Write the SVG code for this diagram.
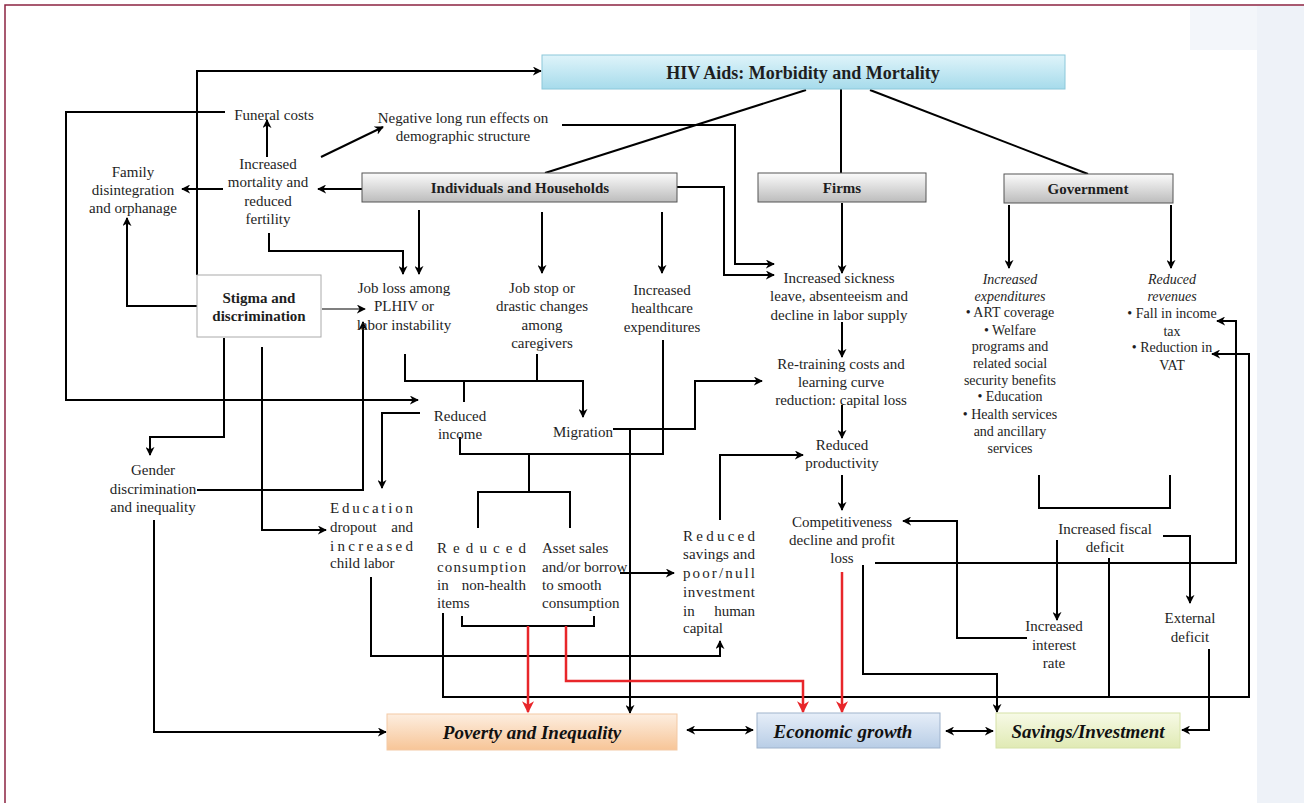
<svg xmlns="http://www.w3.org/2000/svg" width="1304" height="803" viewBox="0 0 1304 803">
<defs>
<style>
.t{font-family:"Liberation Serif","Times New Roman",serif;font-size:15px;fill:#1e1e1e;text-anchor:middle}
.s{text-anchor:start}
.e{text-anchor:end}
.g{font-size:14px}
.i{font-style:italic}
.b{font-weight:bold}
.bi{font-weight:bold;font-style:italic;font-size:19px;fill:#111}
.c{fill:none;stroke:#000;stroke-width:2}
.r{fill:none;stroke:#e8262a;stroke-width:2.5}
.a{marker-end:url(#ah)}
.ra{marker-end:url(#rh)}
.d{marker-start:url(#ah);marker-end:url(#ah)}
.box{stroke:#555;stroke-width:1}
</style>
<marker id="ah" viewBox="0 0 10 10" refX="9" refY="5" markerWidth="9" markerHeight="9" markerUnits="userSpaceOnUse" orient="auto-start-reverse"><path d="M0,0 L10,5 L0,10 L3,5z" fill="#000"/></marker>
<marker id="rh" viewBox="0 0 10 10" refX="9" refY="5" markerWidth="12" markerHeight="12" markerUnits="userSpaceOnUse" orient="auto"><path d="M0,0 L10,5 L0,10 L3,5z" fill="#e8262a"/></marker>
<linearGradient id="gGray" x1="0" y1="0" x2="0" y2="1"><stop offset="0" stop-color="#fbfbfb"/><stop offset="1" stop-color="#bcbcbc"/></linearGradient>
<linearGradient id="gBlue" x1="0" y1="0" x2="0" y2="1"><stop offset="0" stop-color="#dff4fa"/><stop offset="1" stop-color="#a6dbeb"/></linearGradient>
<linearGradient id="gOr" x1="0" y1="0" x2="0" y2="1"><stop offset="0" stop-color="#fdeee0"/><stop offset="1" stop-color="#f7c597"/></linearGradient>
<linearGradient id="gEc" x1="0" y1="0" x2="0" y2="1"><stop offset="0" stop-color="#e6eef8"/><stop offset="1" stop-color="#b8cde6"/></linearGradient>
<linearGradient id="gSv" x1="0" y1="0" x2="0" y2="1"><stop offset="0" stop-color="#f7fae6"/><stop offset="1" stop-color="#e0eab4"/></linearGradient>
</defs>
<rect x="0" y="0" width="1304" height="803" fill="#fff"/>
<rect x="1257" y="6" width="47" height="797" fill="#eef2f8"/>
<rect x="1190" y="6" width="67" height="44" fill="#f3f6fa"/>
<path d="M5,803 V5 H1304" fill="none" stroke="#8c2342" stroke-width="1.5"/>

<g id="connectors">
<path class="c a" d="M197,275 V71 H541"/>
<path class="c a" d="M225,112 H66 V400 H418"/>
<path class="c a" d="M267,157 V120"/>
<path class="c a" d="M321,157 L383,127"/>
<path class="c a" d="M223,189 H182"/>
<path class="c a" d="M362,189 H318"/>
<path class="c a" d="M269,233 V251 H403 V274"/>
<path class="c a" d="M419,210 V274"/>
<path class="c a" d="M542,212 V273"/>
<path class="c a" d="M662,212 V273"/>
<path class="c a" d="M562,125 H735 V264 H774"/>
<path class="c a" d="M677,187 H724 V275 H774"/>
<path class="c" d="M806,90 L545,173"/>
<path class="c" d="M841,89 V173"/>
<path class="c" d="M870,90 L1088,174"/>
<path class="c a" d="M842,203 V273"/>
<path class="c a" d="M1009,205 V268"/>
<path class="c a" d="M1171,205 V268"/>
<path class="c a" d="M322,309 H365" style="stroke-width:1.2"/>
<path class="c a" d="M197,306 H127 V218"/>
<path class="c a" d="M224,338 V437 H150 V455"/>
<path class="c a" d="M262,347 V530 H326"/>
<path class="c a" d="M197,490 H363 V322"/>
<path class="c a" d="M420,413 H382 V488"/>
<path class="c a" d="M154,520 V732 H386"/>
<path class="c a" d="M405,354 V381 H583 V417"/>
<path class="c" d="M537,354 V381"/>
<path class="c" d="M464,381 V402"/>
<path class="c" d="M460,437 V454 H663 V340"/>
<path class="c" d="M529,454 V492"/>
<path class="c" d="M478,528 V492 H570 V528"/>
<path class="c a" d="M613,429 H695 V381 H762"/>
<path class="c a" d="M630,429 V713"/>
<path class="c a" d="M720,520 V455 H803"/>
<path class="c a" d="M620,573 H674"/>
<path class="c" d="M462,616 V626 H594 V616"/>
<path class="c a" d="M371,577 V656 H720 V641"/>
<path class="c a" d="M443,613 V697 H1249 V354 H1212"/>
<path class="c" d="M1109,558 V697"/>
<path class="c a" d="M875,563 H1236 V321 H1217"/>
<path class="c a" d="M863,565 V674 H997 V712"/>
<path class="c a" d="M1027,638 H957 V521 H903"/>
<path class="c a" d="M1057,540 V620"/>
<path class="c a" d="M1163,536 H1190 V603"/>
<path class="c a" d="M1209,649 V730 H1182"/>
<path class="c" d="M1039,475 V508 H1170 V475"/>
<path class="c d" d="M687,730 H753"/>
<path class="c d" d="M946,731 H993"/>
<path class="c a" d="M842,322 V357"/>
<path class="c a" d="M842,405 V438"/>
<path class="c a" d="M842,475 V510"/>
<path class="r ra" d="M528,626 V712"/>
<path class="r ra" d="M566,626 V681 H803 V712"/>
<path class="r ra" d="M842,572 V712"/>
</g>

<g id="hiv"><rect x="542" y="55" width="523" height="34" fill="url(#gBlue)" stroke="#8cc8da"/><text class="t b" x="803" y="79" style="font-size:18px">HIV Aids: Morbidity and Mortality</text></g>
<g id="individuals"><rect class="box" x="362" y="173" width="315" height="29" fill="url(#gGray)"/><text class="t b" x="520" y="193">Individuals and Households</text></g>
<g id="firms"><rect class="box" x="758" y="173" width="168" height="29" fill="url(#gGray)"/><text class="t b" x="842" y="193">Firms</text></g>
<g id="government"><rect class="box" x="1004" y="174" width="169" height="29" fill="url(#gGray)"/><text class="t b" x="1088" y="194">Government</text></g>
<g id="stigma"><rect x="197" y="275" width="124" height="62" fill="#fff" stroke="#aaa"/><text class="t b" x="259" y="303">Stigma and</text><text class="t b" x="259" y="321">discrimination</text></g>

<g id="funeral"><text class="t" x="274" y="120">Funeral costs</text></g>
<g id="negative"><text class="t" x="463" y="123">Negative long run effects on</text><text class="t" x="463" y="141">demographic structure</text></g>
<g id="mortality"><text class="t" x="268" y="169">Increased</text><text class="t" x="268" y="187">mortality and</text><text class="t" x="268" y="206">reduced</text><text class="t" x="268" y="224">fertility</text></g>
<g id="family"><text class="t" x="133" y="177">Family</text><text class="t" x="133" y="195">disintegration</text><text class="t" x="133" y="213">and orphanage</text></g>
<g id="jobloss"><text class="t" x="404" y="293">Job loss among</text><text class="t" x="404" y="311">PLHIV or</text><text class="t" x="404" y="330">labor instability</text></g>
<g id="jobstop"><text class="t" x="542" y="293">Job stop or</text><text class="t" x="542" y="311">drastic changes</text><text class="t" x="542" y="330">among</text><text class="t" x="542" y="348">caregivers</text></g>
<g id="healthcare"><text class="t" x="662" y="295">Increased</text><text class="t" x="662" y="313">healthcare</text><text class="t" x="662" y="332">expenditures</text></g>
<g id="sickness"><text class="t" x="839" y="283">Increased sickness</text><text class="t" x="839" y="301">leave, absenteeism and</text><text class="t" x="839" y="320">decline in labor supply</text></g>
<g id="retraining"><text class="t" x="841" y="369">Re-training costs and</text><text class="t" x="841" y="387">learning curve</text><text class="t" x="841" y="405">reduction: capital loss</text></g>
<g id="productivity"><text class="t" x="842" y="450">Reduced</text><text class="t" x="842" y="468">productivity</text></g>
<g id="competitiveness"><text class="t" x="842" y="527">Competitiveness</text><text class="t" x="842" y="545">decline and profit</text><text class="t" x="842" y="563">loss</text></g>
<g id="income"><text class="t" x="460" y="421">Reduced</text><text class="t" x="460" y="439">income</text></g>
<g id="migration"><text class="t" x="583" y="437">Migration</text></g>
<g id="gender"><text class="t" x="153" y="475">Gender</text><text class="t" x="153" y="494">discrimination</text><text class="t" x="153" y="512">and inequality</text></g>
<g id="education"><text class="t s" x="330" y="513" textLength="83" lengthAdjust="spacing">Education</text><text class="t s" x="330" y="532">dropout</text><text class="t e" x="413" y="532">and</text><text class="t s" x="330" y="551" textLength="83" lengthAdjust="spacing">increased</text><text class="t s" x="330" y="568">child labor</text></g>
<g id="consumption"><text class="t s" x="437" y="553" textLength="89" lengthAdjust="spacing">Reduced</text><text class="t s" x="437" y="572" textLength="89" lengthAdjust="spacing">consumption</text><text class="t s" x="437" y="590">in</text><text class="t e" x="526" y="590">non-health</text><text class="t s" x="437" y="608">items</text></g>
<g id="asset"><text class="t s" x="542" y="553">Asset sales</text><text class="t s" x="542" y="572">and/or borrow</text><text class="t s" x="542" y="590">to smooth</text><text class="t s" x="542" y="608">consumption</text></g>
<g id="savings"><text class="t s" x="683" y="541" textLength="72" lengthAdjust="spacing">Reduced</text><text class="t s" x="683" y="559" textLength="72" lengthAdjust="spacing">savings and</text><text class="t s" x="683" y="578" textLength="72" lengthAdjust="spacing">poor/null</text><text class="t s" x="683" y="597" textLength="72" lengthAdjust="spacing">investment</text><text class="t s" x="683" y="616">in</text><text class="t e" x="755" y="616">human</text><text class="t s" x="683" y="633">capital</text></g>
<g id="expenditures"><text class="t g i" x="1010" y="284">Increased</text><text class="t g i" x="1010" y="301">expenditures</text><text class="t g" x="1010" y="317">• ART coverage</text><text class="t g" x="1010" y="335">• Welfare</text><text class="t g" x="1010" y="351">programs and</text><text class="t g" x="1010" y="368">related social</text><text class="t g" x="1010" y="385">security benefits</text><text class="t g" x="1010" y="401">• Education</text><text class="t g" x="1010" y="419">• Health services</text><text class="t g" x="1010" y="436">and ancillary</text><text class="t g" x="1010" y="453">services</text></g>
<g id="revenues"><text class="t g i" x="1172" y="284">Reduced</text><text class="t g i" x="1172" y="301">revenues</text><text class="t g" x="1172" y="318">• Fall in income</text><text class="t g" x="1172" y="336">tax</text><text class="t g" x="1172" y="352">• Reduction in</text><text class="t g" x="1172" y="370">VAT</text></g>
<g id="fiscal"><text class="t" x="1105" y="534">Increased fiscal</text><text class="t" x="1105" y="552">deficit</text></g>
<g id="interest"><text class="t" x="1054" y="631">Increased</text><text class="t" x="1054" y="650">interest</text><text class="t" x="1054" y="668">rate</text></g>
<g id="external"><text class="t" x="1190" y="623">External</text><text class="t" x="1190" y="642">deficit</text></g>

<g id="poverty"><rect x="387" y="714" width="290" height="36" fill="url(#gOr)" stroke="#f3c9a5"/><text class="t bi" x="532" y="739">Poverty and Inequality</text></g>
<g id="economic"><rect x="757" y="713" width="183" height="35" fill="url(#gEc)" stroke="#9fb3cc"/><text class="t bi" x="843" y="738">Economic growth</text></g>
<g id="savinv"><rect x="996" y="713" width="184" height="35" fill="url(#gSv)" stroke="#d6e2a8"/><text class="t bi" x="1088" y="738">Savings/Investment</text></g>
</svg>
